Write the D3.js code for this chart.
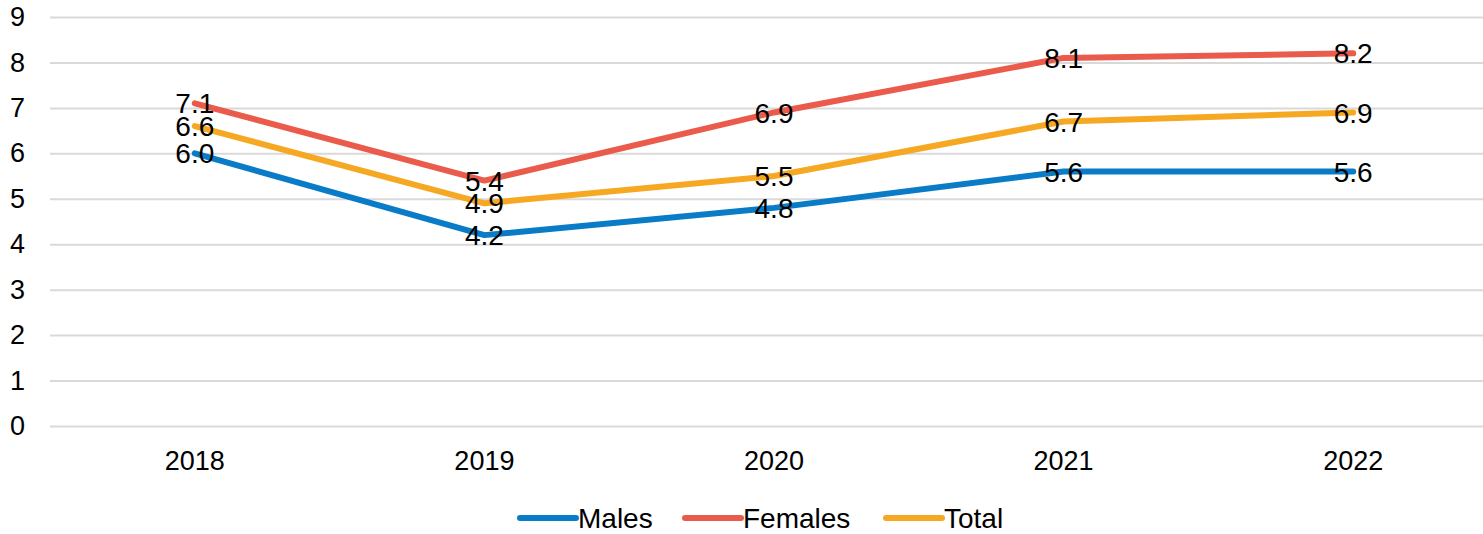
<!DOCTYPE html>
<html>
<head>
	<style>
		html, body { margin: 0; padding: 0; background: white; }
		svg { display: block; font-family: "Liberation Sans", Arial, sans-serif; }
	</style>
</head>
<body>
<svg class="chart" width="1483" height="534"></svg>

<script src="https://d3js.org/d3.v7.min.js"></script>
<script>

// data
var years = ['2018', '2019', '2020', '2021', '2022']
var males = [6.0, 4.2, 4.8, 5.6, 5.6]
var females = [7.1, 5.4, 6.9, 8.1, 8.2]
var total = [6.6, 4.9, 5.5, 6.7, 6.9]
var yTicks = [0, 1, 2, 3, 4, 5, 6, 7, 8, 9]

var series = [
	{ name: 'Males', values: males, color: '#0a7bc6' },
	{ name: 'Females', values: females, color: '#ea5b4b' },
	{ name: 'Total', values: total, color: '#f6a822' }
]

var cfg = {
	left: 50,
	right: 1498,
	top: 17,
	bottom: 426,
	lineWidth: 6,
	fontSize: 27,
	labelSize: 28
}

var svg = d3.select('.chart')

var x = d3.scaleBand()
	.domain(years)
	.range([cfg.left, cfg.right])

var y = d3.scaleLinear()
	.domain([0, 9])
	.range([cfg.bottom, cfg.top])

// gridlines + y labels
var yAxis = svg.append('g')
	.attr('transform', 'translate(' + cfg.left + ',0)')
	.call(d3.axisLeft(y).tickValues(yTicks).tickSize(-(cfg.right - cfg.left)).tickPadding(25).tickFormat(d3.format('d')))
yAxis.select('.domain').remove()
yAxis.selectAll('.tick line').attr('stroke', '#d9d9d9').attr('stroke-width', 2)
yAxis.selectAll('.tick text')
	.attr('font-size', cfg.fontSize)
	.attr('fill', '#000')
	.attr('font-family', 'Liberation Sans, Arial, sans-serif')

// x labels
var xAxis = svg.append('g')
	.attr('transform', 'translate(0,' + cfg.bottom + ')')
	.call(d3.axisBottom(x).tickSize(0).tickPadding(25))
xAxis.select('.domain').remove()
xAxis.selectAll('.tick text')
	.attr('font-size', cfg.fontSize)
	.attr('fill', '#000')
	.attr('font-family', 'Liberation Sans, Arial, sans-serif')

// lines
var line = d3.line()
	.x(function(d, i) { return x(years[i]) + x.bandwidth() / 2 })
	.y(function(d) { return y(d) })

svg.selectAll('.series')
	.data(series)
	.enter().append('path')
		.attr('class', 'series')
		.attr('d', function(s) { return line(s.values) })
		.attr('fill', 'none')
		.attr('stroke', function(s) { return s.color })
		.attr('stroke-width', cfg.lineWidth)
		.attr('stroke-linecap', 'round')
		.attr('stroke-linejoin', 'round')

// data labels, centered on the points
series.forEach(function(s) {
	svg.append('g').selectAll('text')
		.data(s.values)
		.enter().append('text')
			.attr('x', function(d, i) { return x(years[i]) + x.bandwidth() / 2 })
			.attr('y', function(d) { return y(d) })
			.attr('dy', '0.36em')
			.attr('text-anchor', 'middle')
			.attr('font-size', cfg.labelSize)
			.attr('fill', '#000')
			.text(function(d) { return d3.format('.1f')(d) })
})

// legend
var legendX = [520, 685, 886]
var legend = svg.append('g')
	.selectAll('g')
	.data(series)
	.enter().append('g')
		.attr('transform', function(s, i) { return 'translate(' + legendX[i] + ',518)' })

legend.append('line')
	.attr('x1', 0).attr('x2', 56)
	.attr('stroke', function(s) { return s.color })
	.attr('stroke-width', cfg.lineWidth)
	.attr('stroke-linecap', 'round')

legend.append('text')
	.attr('x', 58)
	.attr('dy', '0.36em')
	.attr('font-size', cfg.labelSize)
	.attr('fill', '#000')
	.text(function(s) { return s.name })

</script>
</body>
</html>
